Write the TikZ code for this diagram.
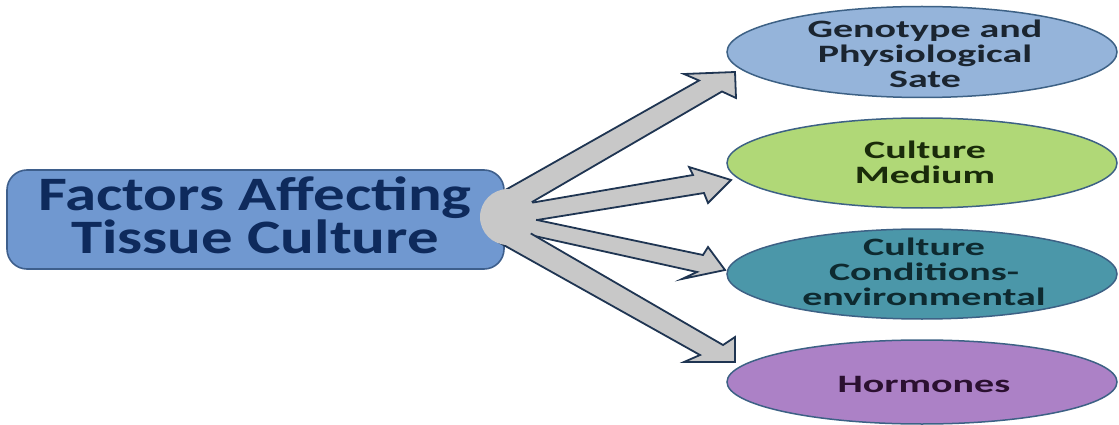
\documentclass[tikz,border=0pt]{standalone}
\usepackage{fontspec}
\usetikzlibrary{shapes.geometric}
\newfontfamily\bigfont[FakeStretch=1.31]{Carlito}
\newfontfamily\elfont[FakeStretch=1.6]{Carlito}
\definecolor{boxfill}{HTML}{7098D0}
\definecolor{boxline}{HTML}{3E5F8C}
\definecolor{boxtext}{HTML}{0E2A5C}
\definecolor{hubgray}{HTML}{C8C8C8}
\definecolor{arrline}{HTML}{1F3552}
\definecolor{elline}{HTML}{3D6185}
\definecolor{eafill}{HTML}{95B4DA}
\definecolor{ebfill}{HTML}{B0D877}
\definecolor{ecfill}{HTML}{4B97A9}
\definecolor{edfill}{HTML}{AC81C6}
\definecolor{eatext}{HTML}{1B2530}
\definecolor{ebtext}{HTML}{1A2B0A}
\definecolor{ectext}{HTML}{0E2A30}
\definecolor{edtext}{HTML}{2B1030}
\begin{document}
\begin{tikzpicture}[x=1pt,y=-1pt,
  mainbox/.style={draw=boxline, line width=1.6pt, fill=boxfill, rounded corners=20pt,
    minimum width=497pt, minimum height=99pt, inner sep=0pt},
  maintext/.style={anchor=base, inner sep=0pt, text=boxtext, align=center,
    font=\bigfont\bfseries\fontsize{48}{39}\selectfont},
  hubshape/.style={circle, fill=hubgray, minimum size=56pt, inner sep=0pt},
  blockarrow/.style={draw=arrline, line width=1.8pt, fill=hubgray, line join=miter},
  oval/.style={ellipse, draw=elline, line width=1.5pt, minimum width=390pt, inner sep=0pt},
  etext/.style={anchor=base, inner sep=0pt, align=center,
    font=\elfont\bfseries\fontsize{25}{25}\selectfont}]
\useasboundingbox[fill=white] (0,0) rectangle (1119,425);

% main box
\node[mainbox] (main) at (255.5,219.5) {};
\node[maintext] (maintxt) at (255,253) {Factors Affecting\\Tissue Culture};

% ellipses
\node[oval, fill=eafill, minimum height=91pt] (ga) at (922,52) {};
\node[oval, fill=ebfill, minimum height=90pt] (gb) at (922,163) {};
\node[oval, fill=ecfill, minimum height=90pt] (gc) at (922,274) {};
\node[oval, fill=edfill, minimum height=84pt] (gd) at (922,382) {};

% block arrows
\draw[blockarrow] (508,217) -- (495.8,195.4) -- (699,80.5) -- (684,74) -- (735,72)
  -- (736,98) -- (722,91.5) -- (508,216) -- cycle;
\draw[blockarrow] (508,217) -- (506.4,207.1) -- (693,175) -- (689,167) -- (731,180)
  -- (708,203) -- (704,193) -- (509.2,224.5) -- cycle;
\draw[blockarrow] (508,217) -- (508.6,214) -- (703,255) -- (708,247) -- (725,270)
  -- (682,279) -- (697,272) -- (505.2,229.5) -- cycle;
\draw[blockarrow] (508,217) -- (506.6,219.4) -- (723,345) -- (735,337) -- (735,362)
  -- (684,362) -- (700,355) -- (495,240.2) -- cycle;

% hub
\node[hubshape] (hub) at (508,217) {};

% ellipse texts
\node[etext, text=eatext] (gatxt) at (925,87.5) {Genotype and\\Physiological\\Sate};
\node[etext, text=ebtext] (gbtxt) at (925,183) {Culture\\Medium};
\node[etext, text=ectext] (gctxt) at (924,305.5) {Culture\\Conditions-\\environmental};
\node[etext, text=edtext] (gdtxt) at (924,392) {Hormones};
\end{tikzpicture}
\end{document}
